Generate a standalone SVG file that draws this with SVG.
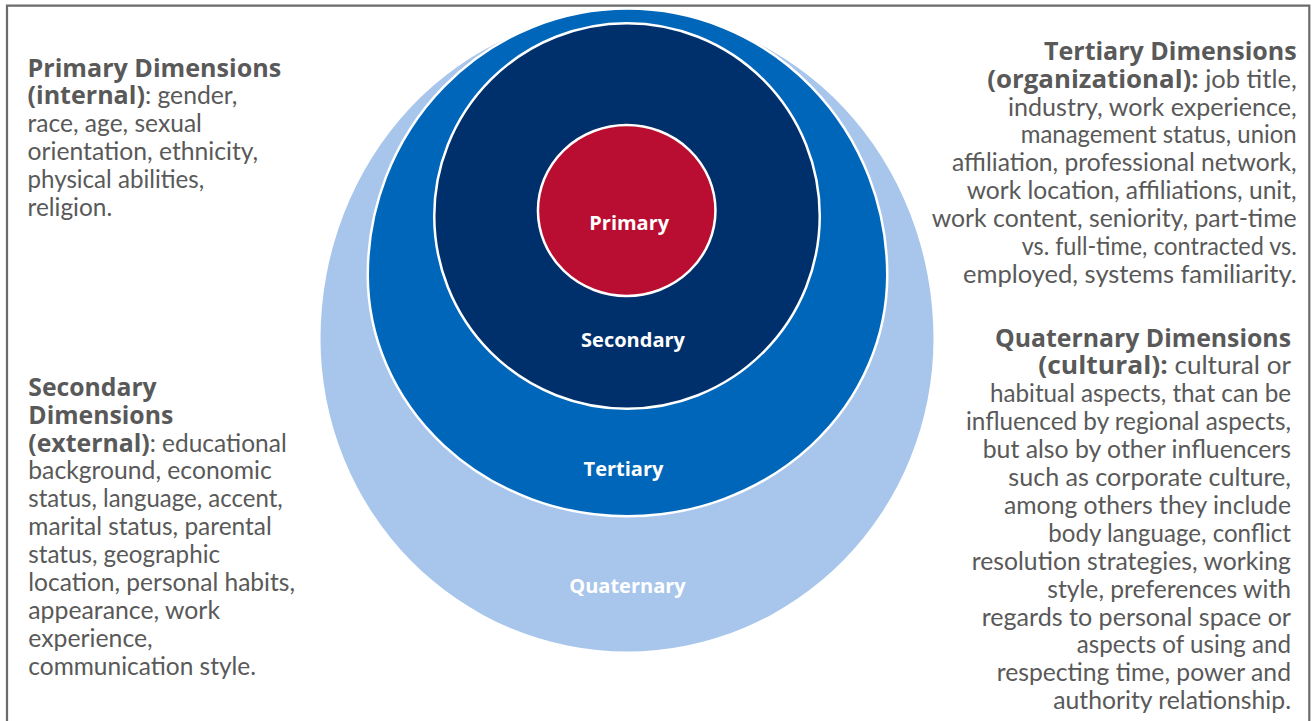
<svg xmlns="http://www.w3.org/2000/svg" width="1313" height="721" viewBox="0 0 1313 721">
<style>
.desc{font-family:Lato,"Liberation Sans",sans-serif;font-size:24.7px;fill:#595959}
.b{font-family:"Open Sans",Lato,sans-serif;font-weight:700;font-size:25px}
.r{text-anchor:end}
.lbl{font-family:"Open Sans",Lato,sans-serif;font-weight:700;font-size:20px;fill:#ffffff;text-anchor:middle}
.ring{stroke:#ffffff;stroke-width:2.5}
</style>
<rect width="1313" height="721" fill="#ffffff"/>
<path id="frame" d="M7,724V5.7H1309.3V724" fill="none" stroke="#6b6b6b" stroke-width="2.2"/>

<g id="ring-quaternary">
<path d="M320.5,338.7A306.5,326.7 0 0 1 933.5,338.7A306.5,313 0 0 1 320.5,338.7Z" fill="#A8C6EC"/>
<text class="lbl" x="627.5" y="593.3">Quaternary</text>
</g>
<g id="ring-tertiary">
<path class="ring" d="M367.75,275A259.75,266.45 0 0 1 887.25,275A259.75,241.25 0 0 1 367.75,275Z" fill="#0066B9"/>
<text class="lbl" x="623.5" y="476">Tertiary</text>
</g>
<g id="ring-secondary">
<circle class="ring" cx="627" cy="216" r="192.75" fill="#00306B"/>
<text class="lbl" x="633" y="347.3">Secondary</text>
</g>
<g id="ring-primary">
<ellipse class="ring" cx="626.7" cy="210.5" rx="88.75" ry="85.5" fill="#B90E31"/>
<text class="lbl" x="629.2" y="230">Primary</text>
</g>
<g id="connectors"/>

<g id="text-primary" class="desc" lengthAdjust="spacingAndGlyphs">
<text x="27.5" y="76.5" textLength="253.7" lengthAdjust="spacingAndGlyphs"><tspan class="b">Primary Dimensions</tspan></text>
<text x="27.5" y="104.4" textLength="210" lengthAdjust="spacingAndGlyphs"><tspan class="b">(internal)</tspan>: gender,</text>
<text x="27.5" y="132.3" textLength="174.4" lengthAdjust="spacingAndGlyphs">race, age, sexual</text>
<text x="27.5" y="160.2" textLength="230.7" lengthAdjust="spacingAndGlyphs">orientation, ethnicity,</text>
<text x="27.5" y="188.1" textLength="176.7" lengthAdjust="spacingAndGlyphs">physical abilities,</text>
<text x="27.5" y="216" textLength="84.7" lengthAdjust="spacingAndGlyphs">religion.</text>
</g>

<g id="text-secondary" class="desc">
<text x="28.3" y="395.7" textLength="128.4" lengthAdjust="spacingAndGlyphs"><tspan class="b">Secondary</tspan></text>
<text x="28.3" y="423.6" textLength="145" lengthAdjust="spacingAndGlyphs"><tspan class="b">Dimensions</tspan></text>
<text x="28.3" y="451.5" textLength="258.4" lengthAdjust="spacingAndGlyphs"><tspan class="b">(external)</tspan>: educational</text>
<text x="28.3" y="479.4" textLength="243.4" lengthAdjust="spacingAndGlyphs">background, economic</text>
<text x="28.3" y="507.3" textLength="254.4" lengthAdjust="spacingAndGlyphs">status, language, accent,</text>
<text x="28.3" y="535.2" textLength="243.4" lengthAdjust="spacingAndGlyphs">marital status, parental</text>
<text x="28.3" y="563.1" textLength="191.7" lengthAdjust="spacingAndGlyphs">status, geographic</text>
<text x="28.3" y="591" textLength="266.7" lengthAdjust="spacingAndGlyphs">location, personal habits,</text>
<text x="28.3" y="618.9" textLength="191.7" lengthAdjust="spacingAndGlyphs">appearance, work</text>
<text x="28.3" y="646.8" textLength="124.4" lengthAdjust="spacingAndGlyphs">experience,</text>
<text x="28.3" y="674.7" textLength="227.7" lengthAdjust="spacingAndGlyphs">communication style.</text>
</g>

<g id="text-tertiary" class="desc r">
<text x="1296.7" y="59.7" textLength="252.7" lengthAdjust="spacingAndGlyphs"><tspan class="b">Tertiary Dimensions</tspan></text>
<text x="1296.7" y="87.6" textLength="309.4" lengthAdjust="spacingAndGlyphs"><tspan class="b">(organizational):</tspan> job title,</text>
<text x="1296.7" y="115.5" textLength="288.7" lengthAdjust="spacingAndGlyphs">industry, work experience,</text>
<text x="1296.7" y="143.4" textLength="276" lengthAdjust="spacingAndGlyphs">management status, union</text>
<text x="1296.7" y="171.3" textLength="344.7" lengthAdjust="spacingAndGlyphs">affiliation, professional network,</text>
<text x="1296.7" y="199.2" textLength="330" lengthAdjust="spacingAndGlyphs">work location, affiliations, unit,</text>
<text x="1296.7" y="227.1" textLength="365" lengthAdjust="spacingAndGlyphs">work content, seniority, part-time</text>
<text x="1296.7" y="255" textLength="275" lengthAdjust="spacingAndGlyphs">vs. full-time, contracted vs.</text>
<text x="1296.7" y="282.9" textLength="333.7" lengthAdjust="spacingAndGlyphs">employed, systems familiarity.</text>
</g>

<g id="text-quaternary" class="desc r">
<text x="1291" y="346.5" textLength="296" lengthAdjust="spacingAndGlyphs"><tspan class="b">Quaternary Dimensions</tspan></text>
<text x="1291" y="374.4" textLength="252.7" lengthAdjust="spacingAndGlyphs"><tspan class="b">(cultural):</tspan> cultural or</text>
<text x="1291" y="402.3" textLength="301" lengthAdjust="spacingAndGlyphs">habitual aspects, that can be</text>
<text x="1291" y="430.2" textLength="325" lengthAdjust="spacingAndGlyphs">influenced by regional aspects,</text>
<text x="1291" y="458.1" textLength="308.3" lengthAdjust="spacingAndGlyphs">but also by other influencers</text>
<text x="1291" y="486" textLength="282.7" lengthAdjust="spacingAndGlyphs">such as corporate culture,</text>
<text x="1291" y="513.9" textLength="287" lengthAdjust="spacingAndGlyphs">among others they include</text>
<text x="1291" y="541.8" textLength="242.7" lengthAdjust="spacingAndGlyphs">body language, conflict</text>
<text x="1291" y="569.7" textLength="319.3" lengthAdjust="spacingAndGlyphs">resolution strategies, working</text>
<text x="1291" y="597.6" textLength="243.7" lengthAdjust="spacingAndGlyphs">style, preferences with</text>
<text x="1291" y="625.5" textLength="309.3" lengthAdjust="spacingAndGlyphs">regards to personal space or</text>
<text x="1291" y="653.4" textLength="214.3" lengthAdjust="spacingAndGlyphs">aspects of using and</text>
<text x="1291" y="681.3" textLength="294.3" lengthAdjust="spacingAndGlyphs">respecting time, power and</text>
<text x="1291" y="709.2" textLength="237.7" lengthAdjust="spacingAndGlyphs">authority relationship.</text>
</g>
</svg>
